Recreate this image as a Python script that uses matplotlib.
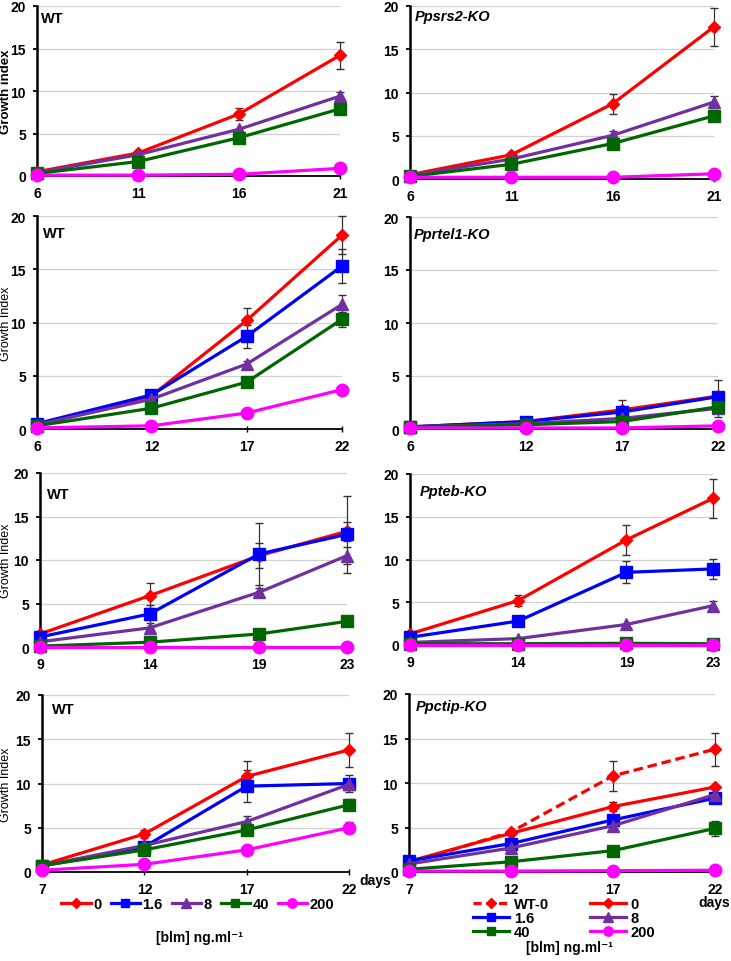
import numpy as np
import matplotlib
matplotlib.use("Agg")
import matplotlib.pyplot as plt
from matplotlib.lines import Line2D

plt.rcParams['font.family'] = ['Liberation Sans', 'DejaVu Sans']

# ---- data ----
conc = ['0', '1.6', '8', '40', '200']

days_1 = [6, 11, 16, 21]
mean_1 = {'0': [0.5, 2.7, 7.3, 14.2], '8': [0.4, 2.5, 5.5, 9.4],
          '40': [0.3, 1.7, 4.5, 7.9], '200': [0.1, 0.1, 0.2, 0.9]}
err_1 = {'0': [0, 0, 0.75, 1.6], '8': [0, 0, 0, 0.5]}

days_2 = [6, 11, 16, 21]
mean_2 = {'0': [0.5, 2.8, 8.7, 17.6], '8': [0.4, 2.3, 5.05, 8.9],
          '40': [0.3, 1.7, 4.1, 7.3], '200': [0.2, 0.2, 0.2, 0.6]}
err_2 = {'0': [0, 0, 1.15, 2.2], '8': [0, 0, 0.5, 0.7]}

days_3 = [6, 12, 17, 22]
mean_3 = {'0': [0.4, 3.1, 10.2, 18.2], '1.6': [0.5, 3.2, 8.7, 15.3],
          '8': [0.4, 2.8, 6.1, 11.7], '40': [0.3, 1.95, 4.4, 10.3],
          '200': [0.1, 0.3, 1.5, 3.7]}
err_3 = {'0': [0, 0, 1.2, 1.8], '1.6': [0, 0, 1.1, 1.6],
         '8': [0, 0, 0.3, 0.9], '40': [0, 0, 0, 0.7]}

days_4 = [6, 12, 17, 22]
mean_4 = {'0': [0.2, 0.7, 1.8, 3.1], '1.6': [0.2, 0.7, 1.6, 3.05],
          '8': [0.2, 0.5, 1.0, 1.95], '40': [0.2, 0.4, 0.7, 2.1],
          '200': [0.1, 0.1, 0.1, 0.3]}
err_4 = {'0': [0, 0, 0.9, 1.5], '8': [0, 0, 0, 0.8]}

days_5 = [9, 14, 19, 23]
mean_5 = {'0': [1.5, 5.9, 10.5, 13.3], '1.6': [1.15, 3.8, 10.7, 12.95],
          '8': [0.6, 2.2, 6.3, 10.5], '40': [0.1, 0.55, 1.5, 2.95],
          '200': [0.05, 0.05, 0.05, 0.05]}
err_5 = {'0': [0, 1.45, 1.4, 1.1], '1.6': [0, 1.0, 3.6, 4.4],
         '8': [0, 0, 0.5, 1.0]}

days_6 = [9, 14, 19, 23]
mean_6 = {'0': [1.3, 5.2, 12.3, 17.15], '1.6': [0.9, 2.8, 8.5, 8.9],
          '8': [0.3, 0.75, 2.4, 4.6], '40': [0.15, 0.15, 0.2, 0.15],
          '200': [0.05, 0.05, 0.05, 0.05]}
err_6 = {'0': [0, 0.6, 1.75, 2.3], '1.6': [0, 0, 1.3, 1.2],
         '8': [0, 0, 0, 0.5]}

days_7 = [7, 12, 17, 22]
mean_7 = {'0': [0.8, 4.3, 10.8, 13.8], '1.6': [0.7, 2.85, 9.7, 10.0],
          '8': [0.7, 3.0, 5.7, 9.9], '40': [0.7, 2.5, 4.75, 7.6],
          '200': [0.2, 0.87, 2.5, 5.0]}
err_7 = {'0': [0, 0.5, 1.7, 1.9], '1.6': [0, 0, 1.8, 1.0],
         '8': [0, 0, 0.6, 0], '40': [0, 0, 0, 0.6], '200': [0, 0, 0, 0.6]}

days_8 = [7, 12, 17, 22]
wt0_8 = [1.0, 4.5, 10.8, 13.8]
wt0_err_8 = [0, 0, 1.65, 1.85]
mean_8 = {'0': [1.2, 4.35, 7.35, 9.55], '1.6': [1.25, 3.2, 5.85, 8.3],
          '8': [0.9, 2.7, 5.2, 8.7], '40': [0.3, 1.15, 2.4, 4.9],
          '200': [0.1, 0.1, 0.15, 0.2]}
err_8 = {'0': [0, 0, 0.5, 0], '40': [0, 0, 0, 0.8]}

titles = ['WT', 'Ppsrs2-KO', 'WT', 'Pprtel1-KO', 'WT', 'Ppteb-KO', 'WT', 'Ppctip-KO']

# ---- styles ----
style = {
    '0': dict(color='#FF0000', marker='D', ms=6.5),
    '1.6': dict(color='#0000FF', marker='s', ms=8.5),
    '8': dict(color='#7030A0', marker='^', ms=9),
    '40': dict(color='#006600', marker='s', ms=8.5),
    '200': dict(color='#FF00FF', marker='o', ms=9),
}
LW = 2.3
fs = 10.5
tfs = 10

fig = plt.figure(figsize=(7.31, 9.62), dpi=100)
W, H = 731.0, 962.0

# panel boxes in pixels: left, right, top, bottom
boxes = [(37, 340, 7, 177), (410, 714, 7, 180),
         (37, 342, 217, 430), (410, 718, 218, 430),
         (40, 347, 474, 648), (410, 713, 475, 646),
         (42, 349, 696, 873), (409, 715, 695, 873)]
title_pos = [(0.013, 0.93), (0.016, 0.94), (0.02, 0.92), (0.013, 0.92),
             (0.023, 0.88), (0.033, 0.90), (0.033, 0.92), (0.023, 0.93)]
panels = [(days_1, mean_1, err_1), (days_2, mean_2, err_2),
          (days_3, mean_3, err_3), (days_4, mean_4, err_4),
          (days_5, mean_5, err_5), (days_6, mean_6, err_6),
          (days_7, mean_7, err_7), (days_8, mean_8, err_8)]

axes = []
for i, ((l, r, t, b), (days, mean, err)) in enumerate(zip(boxes, panels)):
    ax = fig.add_axes([l / W, 1 - b / H, (r - l) / W, (b - t) / H])
    axes.append(ax)
    x = np.array(days)
    if i == 7:
        e = np.array(wt0_err_8)
        m = e > 0
        ax.errorbar(x[m], np.array(wt0_8)[m], yerr=e[m], fmt='none',
                    ecolor='#333333', elinewidth=0.9, capsize=3, zorder=2,
                    clip_on=False)
        ax.plot(x, wt0_8, color='#FF0000', marker='D', ms=6.5, lw=LW,
                ls=(0, (3, 1.5)), zorder=3, clip_on=False)
    for c in conc:
        if c not in mean:
            continue
        y = np.array(mean[c])
        if c in err:
            e = np.array(err[c])
            m = e > 0
            ax.errorbar(x[m], y[m], yerr=e[m], fmt='none', ecolor='#333333',
                        elinewidth=0.9, capsize=3, zorder=2, clip_on=False)
        ax.plot(x, y, lw=LW, zorder=3, clip_on=False, **style[c])

    ax.set_xlim(days[0], days[-1])
    ax.set_ylim(0, 20)
    ax.set_xticks(days)
    ax.set_yticks([0, 5, 10, 15, 20])
    ax.yaxis.grid(True, color='#D0D0D0', lw=0.9)
    ax.set_axisbelow(True)
    for s in ['top', 'right']:
        ax.spines[s].set_visible(False)
    ax.spines['left'].set_linewidth(1.8)
    ax.spines['bottom'].set_linewidth(1.3)
    ax.tick_params(axis='y', length=3, width=1.3, pad=5, labelsize=tfs)
    ax.tick_params(axis='x', direction='inout', length=4, width=1.0, pad=5,
                   labelsize=tfs)
    for lab in ax.get_xticklabels() + ax.get_yticklabels():
        lab.set_fontweight('bold')
    ko = i % 2 == 1
    ax.text(title_pos[i][0], title_pos[i][1], titles[i], transform=ax.transAxes,
            fontsize=fs, fontweight='bold', style='italic' if ko else 'normal',
            va='center', ha='left')
    if not ko:
        fig.text(6 / W, 1 - (t + b) / 2 / H,
                 'Growth index' if i == 0 else 'Growth Index',
                 rotation=90, ha='center', va='center',
                 fontsize=9.5 if i == 0 else 9,
                 fontweight='bold' if i == 0 else 'normal')

# "days" labels
fig.text(391 / W, 1 - 881 / H, 'days', fontsize=tfs, fontweight='bold',
         ha='right', va='center')
fig.text(730 / W, 1 - 903 / H, 'days', fontsize=tfs, fontweight='bold',
         ha='right', va='center')

# legends
def handle(c, ls='-'):
    return Line2D([], [], lw=LW, ls=ls, **style[c])

hl = [handle(c) for c in conc]
fig.legend(hl, conc, loc='center', bbox_to_anchor=(198 / W, 1 - 905 / H),
           ncol=5, frameon=False, handlelength=2.0, handletextpad=0.2,
           columnspacing=0.6, markerscale=0.75, borderpad=0, borderaxespad=0,
           prop={'weight': 'bold', 'size': fs})
fig.text(200 / W, 1 - 938 / H, '[blm] ng.ml⁻¹', ha='center', va='center',
         fontsize=10, fontweight='bold')

hr = [handle('0', (0, (2.5, 1.5))), handle('1.6'), handle('40'),
      handle('0'), handle('8'), handle('200')]
lr = ['WT-0', '1.6', '40', '0', '8', '200']
fig.legend(hr, lr, loc='center', bbox_to_anchor=(564 / W, 1 - 919 / H),
           ncol=2, frameon=False, handlelength=2.5, handletextpad=0.3,
           columnspacing=2.8, labelspacing=0.0, markerscale=0.75,
           borderpad=0, borderaxespad=0,
           prop={'weight': 'bold', 'size': fs})
fig.text(570 / W, 1 - 948 / H, '[blm] ng.ml⁻¹', ha='center', va='center',
         fontsize=10, fontweight='bold')

fig.savefig('out.png', dpi=100)
